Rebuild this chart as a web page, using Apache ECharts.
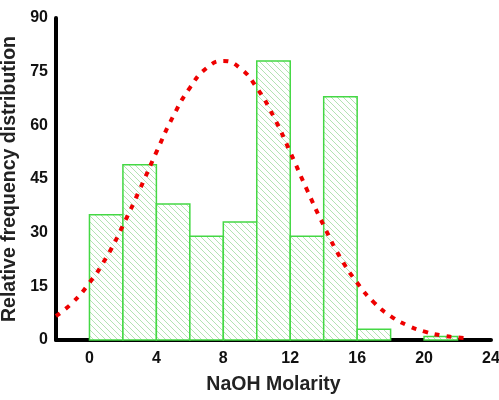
<!DOCTYPE html>
<html>
<head>
<meta charset="utf-8">
<script src="https://cdn.jsdelivr.net/npm/echarts@6/dist/echarts.min.js"></script>
<style>
html, body { margin: 0; padding: 0; background: #fff; }
#main { width: 499px; height: 400px; }
</style>
</head>
<body>
<div id="main"></div>
<script>
// histogram bins: left edge, width 2
var binStarts = [0, 2, 4, 6, 8, 10, 12, 14, 16, 20];
var binValues = [35, 49, 38, 29, 33, 78, 29, 68, 3, 1];
var binWidth = 2;

// red dotted curve
var curveX = [-2, -1, 0, 1, 2, 3, 4, 5, 6, 7, 8, 9, 10, 11, 12, 13, 14, 15, 16, 17, 18, 19, 20, 21, 22, 22.6];
var curveY = [6.7, 10.5, 16, 23, 32, 42, 52.5, 62.5, 70.5, 76, 78, 76, 70.5, 62.5, 52.5, 42, 32, 23, 16, 10.5, 6.7, 4.1, 2.4, 1.3, 0.7, 0.5];

var xTicks = [0, 4, 8, 12, 16, 20, 24];

// hatch pattern for the bars
var hatch = document.createElement('canvas');
hatch.width = 6;
hatch.height = 6;
var hc = hatch.getContext('2d');
hc.fillStyle = '#ffffff';
hc.fillRect(0, 0, 6, 6);
hc.strokeStyle = '#b3e3b3';
hc.lineWidth = 1;
hc.beginPath();
hc.moveTo(-1, -1); hc.lineTo(7, 7);
hc.moveTo(-7, -1); hc.lineTo(1, 7);
hc.moveTo(5, -1); hc.lineTo(13, 7);
hc.stroke();

var myChart = echarts.init(document.getElementById('main'));

var barData = binStarts.map(function (s, i) { return [s, binValues[i]]; });
var curveData = curveX.map(function (x, i) { return [x, curveY[i]]; });

var option = {
    animation: false,
    grid: { left: 56, right: 8, top: 18, bottom: 60, outerBoundsMode: 'none', containLabel: false },
    xAxis: {
        type: 'value',
        min: -2,
        max: 24,
        name: 'NaOH Molarity',
        nameLocation: 'middle',
        nameGap: 35,
        nameTextStyle: { fontFamily: 'Liberation Sans', fontWeight: 'bold', fontSize: 19.5, color: '#222' },
        axisLine: { show: true, onZero: false, lineStyle: { color: '#000', width: 4 } },
        axisTick: { show: false },
        splitLine: { show: false },
        axisLabel: {
            customValues: xTicks,
            margin: 11,
            fontFamily: 'Liberation Sans', fontWeight: 'bold', fontSize: 16, color: '#111'
        }
    },
    yAxis: {
        type: 'value',
        min: 0,
        max: 90,
        interval: 15,
        name: 'Relative frequency distribution',
        nameLocation: 'middle',
        nameGap: 30,
        nameTextStyle: { fontFamily: 'Liberation Sans', fontWeight: 'bold', fontSize: 19.5, color: '#222' },
        axisLine: { show: true, onZero: false, lineStyle: { color: '#000', width: 4 } },
        axisTick: { show: false },
        splitLine: { show: false },
        axisLabel: {
            margin: 8,
            fontFamily: 'Liberation Sans', fontWeight: 'bold', fontSize: 16, color: '#111'
        }
    },
    series: [{
        type: 'custom',
        data: barData,
        z: 2,
        renderItem: function (params, api) {
            var x0 = api.value(0);
            var v = api.value(1);
            var p0 = api.coord([x0, 0]);
            var p1 = api.coord([x0 + binWidth, v]);
            return {
                type: 'rect',
                shape: { x: p0[0], y: p1[1], width: p1[0] - p0[0], height: p0[1] - p1[1] },
                style: {
                    fill: { image: hatch, repeat: 'repeat' },
                    stroke: '#44d844',
                    lineWidth: 1.5
                }
            };
        }
    }, {
        type: 'line',
        data: curveData,
        smooth: true,
        symbol: 'none',
        z: 3,
        lineStyle: { color: '#ee0000', width: 4, type: [5, 7] }
    }]
};
myChart.setOption(option);
</script>
</body>
</html>
